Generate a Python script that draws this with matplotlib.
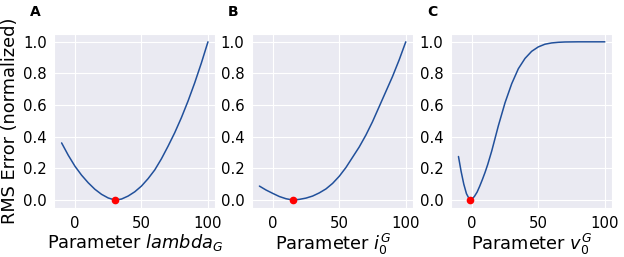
import numpy as np
import matplotlib
matplotlib.use("Agg")
import matplotlib.pyplot as plt
import seaborn as sns

sns.set_style("darkgrid")
plt.rcParams['font.family'] = ['DejaVu Sans']
plt.rcParams['text.color'] = 'black'
plt.rcParams['axes.labelcolor'] = 'black'
plt.rcParams['xtick.color'] = 'black'
plt.rcParams['ytick.color'] = 'black'

# values
x_a = [-10, -5, 0, 5, 10, 15, 20, 25, 30, 35, 40, 45, 50, 55, 60, 65, 70, 75, 80, 85, 90, 95, 100]
rms_a = [0.361, 0.283, 0.214, 0.157, 0.109, 0.068, 0.036, 0.013, 0.0, 0.006, 0.025, 0.052, 0.088,
         0.135, 0.19, 0.26, 0.34, 0.425, 0.52, 0.625, 0.74, 0.865, 1.0]
best_a = (30, 0.0)

x_b = [-10, -5, 0, 5, 10, 15, 20, 25, 30, 35, 40, 45, 50, 55, 60, 65, 70, 75, 80, 85, 90, 95, 100]
rms_b = [0.088, 0.063, 0.042, 0.022, 0.008, 0.0, 0.004, 0.012, 0.025, 0.045, 0.07, 0.105, 0.15,
         0.205, 0.27, 0.335, 0.41, 0.495, 0.59, 0.685, 0.78, 0.885, 1.0]
best_b = (15, 0.0)

x_c = [-10, -8, -6, -4, -2, -1, 0, 2, 4, 6, 8, 10, 12, 15, 20, 25, 30, 35, 40, 45, 50, 55, 60,
       65, 70, 80, 90, 100]
rms_c = [0.275, 0.18, 0.10, 0.04, 0.008, 0.0, 0.004, 0.023, 0.05, 0.088, 0.13, 0.175, 0.225, 0.31,
         0.47, 0.615, 0.735, 0.83, 0.895, 0.94, 0.968, 0.985, 0.993, 0.997, 0.999, 1.0, 1.0, 1.0]
best_c = (-1, 0.0)

panels = [
    ("A", x_a, rms_a, best_a, "Parameter $lambda_G$"),
    ("B", x_b, rms_b, best_b, "Parameter $i_0^G$"),
    ("C", x_c, rms_c, best_c, "Parameter $v_0^G$"),
]

fig = plt.figure(figsize=(6.24, 2.57), dpi=100)
lefts = [0.087, 0.404, 0.723]
width = 0.258
bottom, height = 0.191, 0.677

for i, (letter, xs, ys, best, xlabel) in enumerate(panels):
    ax = fig.add_axes([lefts[i], bottom, width, height])
    ax.plot(xs, ys, color="#21509b", lw=1.1)
    ax.plot(best[0], best[1], "o", color="red", ms=4.5)
    ax.set_ylim(-0.05, 1.05)
    ax.set_xticks([0, 50, 100])
    ax.set_yticks([0.0, 0.2, 0.4, 0.6, 0.8, 1.0])
    ax.tick_params(labelsize=10.7, pad=2)
    ax.set_xlabel(xlabel, fontsize=12.8, labelpad=1)
    if i == 0:
        ax.set_ylabel("RMS Error (normalized)", fontsize=12.8, labelpad=3)
    fig.text(lefts[i] - 0.03, 0.955, letter, fontsize=10, fontweight="bold",
             ha="center", va="center")

fig.savefig("out.png", dpi=100)
